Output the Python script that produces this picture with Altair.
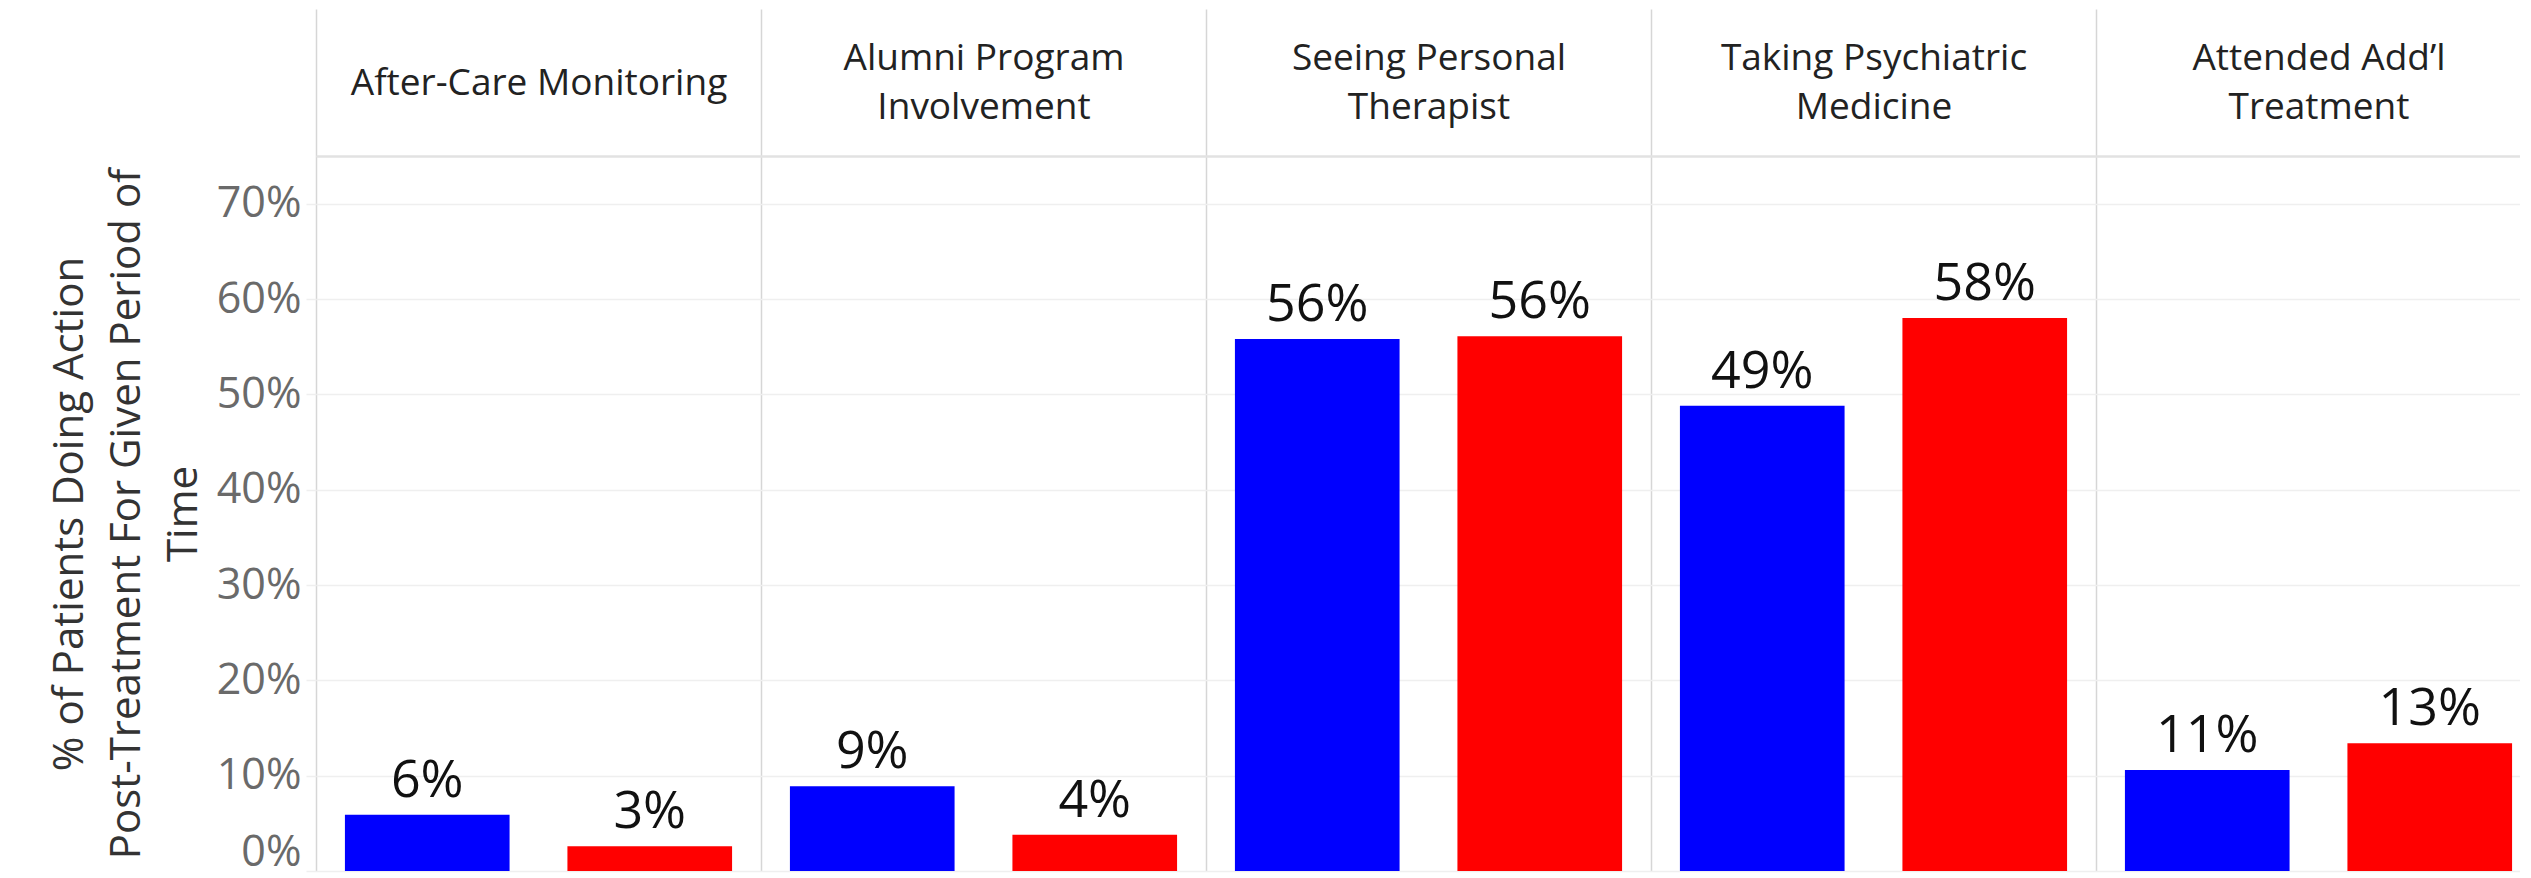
import altair as alt
import pandas as pd

# ---- data ----
categories = [
    "After-Care Monitoring",
    "Alumni Program Involvement",
    "Seeing Personal Therapist",
    "Taking Psychiatric Medicine",
    "Attended Add\u2019l Treatment",
]
header_lines = [
    ["After-Care Monitoring"],
    ["Alumni Program", "Involvement"],
    ["Seeing Personal", "Therapist"],
    ["Taking Psychiatric", "Medicine"],
    ["Attended Add\u2019l", "Treatment"],
]
series = ["Series 1", "Series 2"]
series_colors = ["#0000ff", "#ff0000"]
blue_values = [0.059, 0.089, 0.558, 0.488, 0.106]
red_values = [0.026, 0.038, 0.561, 0.580, 0.134]
y_ticks = [0.0, 0.1, 0.2, 0.3, 0.4, 0.5, 0.6, 0.7]
y_title = [
    "% of Patients Doing Action",
    "Post-Treatment For Given Period of",
    "Time",
]

rows = []
for c, b, r in zip(categories, blue_values, red_values):
    rows.append({"category": c, "series": series[0], "value": b})
    rows.append({"category": c, "series": series[1], "value": r})
df = pd.DataFrame(rows)

# header label expression (category -> list of lines)
expr = "datum.value"
for cat, lines in reversed(list(zip(categories, header_lines))):
    arr = "[" + ",".join("'" + l + "'" for l in lines) + "]"
    expr = f"datum.value == '{cat}' ? {arr} : ({expr})"

# two-line headers are lifted by half a line so that every header is centred
two_line = [c for c, l in zip(categories, header_lines) if len(l) > 1]
two_line_test = "indexof([" + ",".join("'" + c + "'" for c in two_line) + "], datum.value) >= 0"

FONT = "Open Sans"

x_enc = alt.X(
    "category:N",
    sort=categories,
    scale=alt.Scale(paddingInner=0, paddingOuter=0),
    axis=alt.Axis(
        orient="top",
        title=None,
        tickBand="extent",
        ticks=True,
        tickSize=147,
        tickColor="#d6d6d6",
        tickWidth=1.5,
        grid=True,
        gridColor="#d6d6d6",
        gridWidth=1.5,
        domain=True,
        domainColor="#e2e2e2",
        domainWidth=2.5,
        labelExpr=expr,
        labelAngle=0,
        labelFont=FONT,
        labelFontSize=37,
        labelColor="#222222",
        labelBaseline={"condition": {"test": two_line_test, "value": "line-bottom"}, "value": "middle"},
        labelPadding=-74,
        labelLineHeight=49,
        labelLimit=0,
    ),
)
xoff_enc = alt.XOffset(
    "series:N", sort=series, scale=alt.Scale(paddingInner=0.26, paddingOuter=0.13)
)
y_enc = alt.Y(
    "value:Q",
    scale=alt.Scale(domain=[0, 0.75], nice=False, zero=True),
    axis=alt.Axis(
        values=y_ticks,
        format=".0%",
        title=y_title,
        titleFont=FONT,
        titleFontSize=42,
        titleFontWeight="normal",
        titleColor="#333333",
        titleLineHeight=57,
        titlePadding=11,
        labelFont=FONT,
        labelFontSize=43,
        labelColor="#6a6a6a",
        labelPadding=5,
        labelFlush=True,
        labelFlushOffset=3,
        ticks=True,
        tickSize=10,
        tickColor="#efefef",
        tickWidth=1.5,
        grid=True,
        gridColor="#efefef",
        gridWidth=1.5,
        domain=False,
    ),
)

base = alt.Chart(df).encode(x=x_enc, xOffset=xoff_enc, y=y_enc)

bars = base.mark_bar().encode(
    color=alt.Color(
        "series:N",
        scale=alt.Scale(domain=series, range=series_colors),
        legend=None,
    )
)
labels = base.mark_text(
    dy=-18, baseline="alphabetic", align="center", font=FONT, fontSize=52, color="#111111"
).encode(text=alt.Text("value:Q", format=".0%"))

chart = (
    (bars + labels)
    .properties(
        width=2225,
        height=715,
        padding={"left": 40, "top": 0, "right": -22, "bottom": 0},
        background="white",
    )
    .configure_view(stroke=None)
)

chart.save("out.html", embed_options={"renderer": "svg", "actions": False})
